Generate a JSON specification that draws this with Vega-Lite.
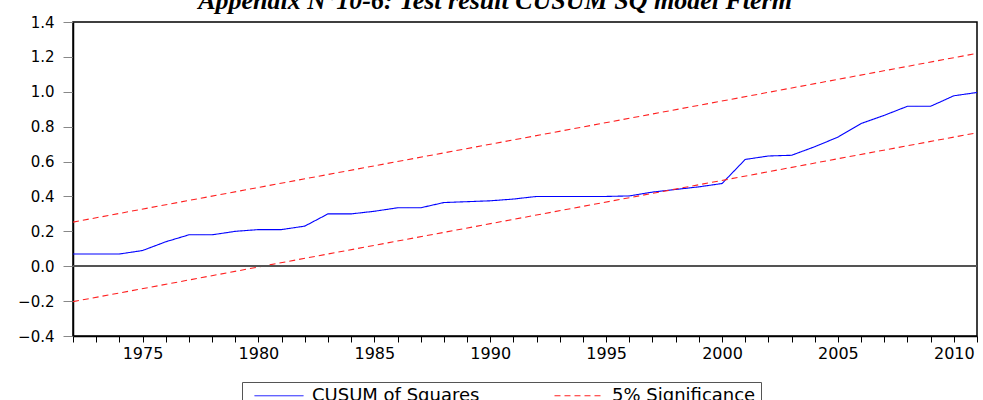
{
  "$schema": "https://vega.github.io/schema/vega-lite/v6.json",
  "width": 904,
  "height": 314,
  "autosize": {"type": "none"},
  "padding": {"left": 73, "top": 22, "right": 6, "bottom": 64},
  "background": "white",
  "title": {
    "text": "Appendix N°10-6: Test result CUSUM SQ model Fterm",
    "font": "Liberation Serif",
    "fontSize": 26,
    "fontStyle": "italic",
    "fontWeight": "bold",
    "color": "black",
    "anchor": "middle",
    "frame": "group",
    "baseline": "alphabetic",
    "offset": 6,
    "dx": -30,
    "dy": 26
  },
  "config": {
    "view": {"stroke": "black", "strokeWidth": 1.5},
    "axis": {"grid": false, "labelOverlap": false}
  },
  "data": {
    "values": [
      {"year": 1972, "value": 0.07, "series": "CUSUM of Squares", "part": "cusum"},
      {"year": 1973, "value": 0.07, "series": "CUSUM of Squares", "part": "cusum"},
      {"year": 1974, "value": 0.07, "series": "CUSUM of Squares", "part": "cusum"},
      {"year": 1975, "value": 0.09, "series": "CUSUM of Squares", "part": "cusum"},
      {"year": 1976, "value": 0.14, "series": "CUSUM of Squares", "part": "cusum"},
      {"year": 1977, "value": 0.18, "series": "CUSUM of Squares", "part": "cusum"},
      {"year": 1978, "value": 0.18, "series": "CUSUM of Squares", "part": "cusum"},
      {"year": 1979, "value": 0.2, "series": "CUSUM of Squares", "part": "cusum"},
      {"year": 1980, "value": 0.21, "series": "CUSUM of Squares", "part": "cusum"},
      {"year": 1981, "value": 0.21, "series": "CUSUM of Squares", "part": "cusum"},
      {"year": 1982, "value": 0.23, "series": "CUSUM of Squares", "part": "cusum"},
      {"year": 1983, "value": 0.3, "series": "CUSUM of Squares", "part": "cusum"},
      {"year": 1984, "value": 0.3, "series": "CUSUM of Squares", "part": "cusum"},
      {"year": 1985, "value": 0.315, "series": "CUSUM of Squares", "part": "cusum"},
      {"year": 1986, "value": 0.335, "series": "CUSUM of Squares", "part": "cusum"},
      {"year": 1987, "value": 0.335, "series": "CUSUM of Squares", "part": "cusum"},
      {"year": 1988, "value": 0.365, "series": "CUSUM of Squares", "part": "cusum"},
      {"year": 1989, "value": 0.37, "series": "CUSUM of Squares", "part": "cusum"},
      {"year": 1990, "value": 0.375, "series": "CUSUM of Squares", "part": "cusum"},
      {"year": 1991, "value": 0.385, "series": "CUSUM of Squares", "part": "cusum"},
      {"year": 1992, "value": 0.4, "series": "CUSUM of Squares", "part": "cusum"},
      {"year": 1993, "value": 0.4, "series": "CUSUM of Squares", "part": "cusum"},
      {"year": 1994, "value": 0.4, "series": "CUSUM of Squares", "part": "cusum"},
      {"year": 1995, "value": 0.4, "series": "CUSUM of Squares", "part": "cusum"},
      {"year": 1996, "value": 0.403, "series": "CUSUM of Squares", "part": "cusum"},
      {"year": 1997, "value": 0.425, "series": "CUSUM of Squares", "part": "cusum"},
      {"year": 1998, "value": 0.44, "series": "CUSUM of Squares", "part": "cusum"},
      {"year": 1999, "value": 0.455, "series": "CUSUM of Squares", "part": "cusum"},
      {"year": 2000, "value": 0.474, "series": "CUSUM of Squares", "part": "cusum"},
      {"year": 2001, "value": 0.612, "series": "CUSUM of Squares", "part": "cusum"},
      {"year": 2002, "value": 0.632, "series": "CUSUM of Squares", "part": "cusum"},
      {"year": 2003, "value": 0.636, "series": "CUSUM of Squares", "part": "cusum"},
      {"year": 2004, "value": 0.685, "series": "CUSUM of Squares", "part": "cusum"},
      {"year": 2005, "value": 0.74, "series": "CUSUM of Squares", "part": "cusum"},
      {"year": 2006, "value": 0.818, "series": "CUSUM of Squares", "part": "cusum"},
      {"year": 2007, "value": 0.865, "series": "CUSUM of Squares", "part": "cusum"},
      {"year": 2008, "value": 0.917, "series": "CUSUM of Squares", "part": "cusum"},
      {"year": 2009, "value": 0.917, "series": "CUSUM of Squares", "part": "cusum"},
      {"year": 2010, "value": 0.977, "series": "CUSUM of Squares", "part": "cusum"},
      {"year": 2011, "value": 0.996, "series": "CUSUM of Squares", "part": "cusum"},
      {"year": 1972, "value": 0.253, "series": "5% Significance", "part": "upper"},
      {"year": 2011, "value": 1.22, "series": "5% Significance", "part": "upper"},
      {"year": 1972, "value": -0.203, "series": "5% Significance", "part": "lower"},
      {"year": 2011, "value": 0.765, "series": "5% Significance", "part": "lower"}
    ]
  },
  "layer": [
    {
      "mark": {"type": "line", "strokeWidth": 1.1, "clip": true},
      "encoding": {
        "x": {
          "field": "year",
          "type": "quantitative",
          "scale": {"domain": [1972, 2011], "nice": false, "zero": false},
          "axis": {
            "title": null,
            "values": [1972,1973,1974,1975,1976,1977,1978,1979,1980,1981,1982,1983,1984,1985,1986,1987,1988,1989,1990,1991,1992,1993,1994,1995,1996,1997,1998,1999,2000,2001,2002,2003,2004,2005,2006,2007,2008,2009,2010,2011],
            "format": "d",
            "labelExpr": "datum.value % 5 === 0 ? datum.label : ''",
            "labelFont": "DejaVu Sans",
            "labelFontSize": 16,
            "labelColor": "black",
            "labelPadding": 3,
            "labelOverlap": false,
            "labelFlush": false,
            "tickColor": "black",
            "tickSize": 6,
            "domainColor": "black",
            "domainWidth": 1.5
          }
        },
        "y": {
          "field": "value",
          "type": "quantitative",
          "scale": {"domain": [-0.4, 1.4], "nice": false, "zero": false},
          "axis": {
            "title": null,
            "tickCount": 9,
            "format": ".1f",
            "labelFont": "DejaVu Sans",
            "labelFontSize": 15,
            "labelColor": "black",
            "labelPadding": 9,
            "labelFlush": false,
            "labelOverlap": false,
            "labelSeparation": 0,
            "tickColor": "#888888",
            "tickSize": 10,
            "domainColor": "black",
            "domainWidth": 1.5
          }
        },
        "detail": {"field": "part", "type": "nominal"},
        "color": {
          "field": "series",
          "type": "nominal",
          "scale": {"domain": ["CUSUM of Squares", "5% Significance"], "range": ["#0000FF", "#FF2020"]},
          "legend": {
            "title": null,
            "orient": "none",
            "legendX": 169,
            "legendY": 360,
            "direction": "horizontal",
            "symbolType": "stroke",
            "symbolSize": 2400,
            "symbolStrokeWidth": 1,
            "symbolOffset": 7,
            "clipHeight": 17,
            "labelFont": "DejaVu Sans",
            "labelFontSize": 18,
            "labelLimit": 400,
            "labelColor": "black",
            "labelOffset": 8,
            "columnPadding": 67,
            "padding": 5,
            "strokeColor": "#555555",
            "fillColor": "white"
          }
        },
        "strokeDash": {
          "field": "series",
          "type": "nominal",
          "scale": {"domain": ["CUSUM of Squares", "5% Significance"], "range": [[1, 0], [6, 4]]},
          "legend": {
            "title": null,
            "orient": "none",
            "legendX": 169,
            "legendY": 360,
            "direction": "horizontal",
            "symbolType": "stroke",
            "symbolSize": 2400,
            "symbolStrokeWidth": 1,
            "symbolOffset": 7,
            "clipHeight": 17,
            "labelFont": "DejaVu Sans",
            "labelFontSize": 18,
            "labelLimit": 400,
            "labelColor": "black",
            "labelOffset": 8,
            "columnPadding": 67,
            "padding": 5,
            "strokeColor": "#555555",
            "fillColor": "white"
          }
        }
      }
    },
    {
      "mark": {"type": "rule", "color": "#555555", "strokeWidth": 1.2},
      "encoding": {
        "y": {
          "datum": 0,
          "type": "quantitative",
          "axis": {"labelOverlap": false, "tickCount": 9}
        }
      }
    }
  ]
}
